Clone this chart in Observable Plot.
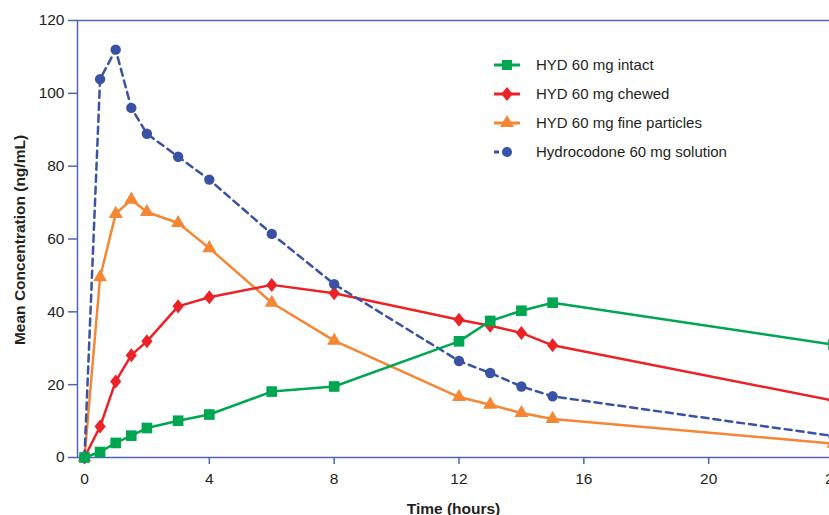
<!DOCTYPE html>
<html>
<head>
<meta charset="utf-8">
<script src="https://cdn.jsdelivr.net/npm/d3@7"></script>
<script src="https://cdn.jsdelivr.net/npm/@observablehq/plot@0.6"></script>
<style>
  html, body { margin: 0; padding: 0; overflow: hidden; background: white; }
  #wrap { position: relative; width: 829px; height: 515px; overflow: hidden; }
  #wrap svg { max-width: none !important; }
  #legend { position: absolute; left: 0; top: 0; pointer-events: none; }
</style>
</head>
<body>
<div id="wrap"></div>
<script>
// ---- data ----
const times = [0, 0.5, 1, 1.5, 2, 3, 4, 6, 8, 12, 13, 14, 15, 24];
const intact   = [0, 1.5, 4.0, 6.0, 8.1, 10.1, 11.8, 18.1, 19.5, 31.9, 37.5, 40.3, 42.5, 31.0];
const chewed   = [0, 8.5, 20.9, 28.1, 31.9, 41.5, 44.0, 47.4, 45.1, 37.8, 36.2, 34.2, 30.8, 15.6];
const fine     = [0, 49.5, 66.9, 70.8, 67.4, 64.4, 57.5, 42.5, 32.1, 16.6, 14.5, 12.2, 10.6, 3.8];
const solution = [0, 103.9, 112.0, 96.0, 88.9, 82.6, 76.3, 61.4, 47.6, 26.5, 23.2, 19.5, 16.8, 5.9];
const seriesNames = ["HYD 60 mg intact", "HYD 60 mg chewed", "HYD 60 mg fine particles", "Hydrocodone 60 mg solution"];
const xTicks = [0, 4, 8, 12, 16, 20, 24];
const yTicks = [0, 20, 40, 60, 80, 100, 120];
const xTitle = "Time (hours)";
const yTitle = "Mean Concentration (ng/mL)";

// ---- styles ----
const axisColor = "#4f63b8";
const textColor = "#231f20";
const green = "#00a651", red = "#ec2227", orange = "#f58634", blue = "#3a52a3";
const font = "'Liberation Sans', Arial, Helvetica, sans-serif";

const diamond = {
  draw(context, size) {
    const h = Math.sqrt(size / 1.6);
    const w = h * 0.8;
    context.moveTo(0, -h);
    context.lineTo(w, 0);
    context.lineTo(0, h);
    context.lineTo(-w, 0);
    context.closePath();
  }
};

const toRows = (vals) => times.map((t, i) => ({t, v: vals[i]}));
const dIntact = toRows(intact), dChewed = toRows(chewed), dFine = toRows(fine), dSol = toRows(solution);

const chart = Plot.plot({
  width: 834,
  height: 515,
  marginLeft: 77,
  marginRight: 1,
  marginTop: 20,
  marginBottom: 58,
  x: {domain: [-0.224, 24]},
  y: {domain: [0, 120]},
  style: {fontFamily: font, fontSize: "15px", color: textColor, background: "white", maxWidth: "none"},
  marks: [
    Plot.axisX({ticks: xTicks, tickSize: 7, stroke: axisColor, strokeWidth: 1.5, tickFormat: () => "", label: null}),
    Plot.axisY({ticks: yTicks, tickSize: 9, stroke: axisColor, strokeWidth: 1.5, tickFormat: () => "", label: null}),
    Plot.text(xTicks, {x: d => d, frameAnchor: "bottom", lineAnchor: "top", dy: 15, fontSize: 15.5, fill: textColor}),
    Plot.text(yTicks, {y: d => d, frameAnchor: "left", textAnchor: "end", lineAnchor: "middle", dx: -13, fontSize: 15.5, fill: textColor}),
    Plot.frame({stroke: axisColor, strokeWidth: 1.5}),
    Plot.text([xTitle], {frameAnchor: "bottom", dx: -2, dy: 56, lineAnchor: "bottom", fontWeight: "bold", fontSize: 15.5, fill: textColor}),
    Plot.text([yTitle], {frameAnchor: "left", dx: -57, dy: 1, rotate: -90, textAnchor: "middle", lineAnchor: "middle", fontWeight: "bold", fontSize: 15.5, fill: textColor}),

    Plot.line(dFine, {x: "t", y: "v", stroke: orange, strokeWidth: 2.5}),
    Plot.dot(dFine, {x: "t", y: "v", symbol: "triangle", r: 5.2, fill: orange, stroke: "none"}),

    Plot.line(dChewed, {x: "t", y: "v", stroke: red, strokeWidth: 2.5}),
    Plot.dot(dChewed, {x: "t", y: "v", symbol: diamond, r: 5.0, fill: red, stroke: "none"}),

    Plot.line(dSol, {x: "t", y: "v", stroke: blue, strokeWidth: 2.5, strokeDasharray: "7,5"}),
    Plot.dot(dSol, {x: "t", y: "v", symbol: "circle", r: 5.2, fill: blue, stroke: "none"}),

    Plot.line(dIntact, {x: "t", y: "v", stroke: green, strokeWidth: 2.5}),
    Plot.dot(dIntact, {x: "t", y: "v", symbol: "square", r: 6.0, fill: green, stroke: "none"})
  ]
});
document.getElementById("wrap").appendChild(chart);

// ---- legend (overlay) ----
const legendItems = [
  {name: seriesNames[0], color: green, symbol: d3.symbolSquare, size: 100, dash: null},
  {name: seriesNames[1], color: red, symbol: diamond, size: 80, dash: null},
  {name: seriesNames[2], color: orange, symbol: d3.symbolTriangle, size: 85, dash: null},
  {name: seriesNames[3], color: blue, symbol: d3.symbolCircle, size: 80, dash: "5,6.5,1.5,20"}
];
const svg = d3.select("#wrap").append("svg")
  .attr("id", "legend").attr("width", 829).attr("height", 515);
const g = svg.selectAll("g").data(legendItems).join("g")
  .attr("transform", (d, i) => `translate(494, ${65 + i * 29})`);
g.append("line").attr("x1", 0).attr("x2", 26).attr("y1", 0).attr("y2", 0)
  .attr("stroke", d => d.color).attr("stroke-width", 3)
  .attr("stroke-dasharray", d => d.dash);
g.append("path").attr("transform", "translate(13,0)")
  .attr("d", d => d3.symbol(d.symbol, d.size)()).attr("fill", d => d.color);
g.append("text").attr("x", 42).attr("y", 0).attr("dy", "0.35em")
  .attr("font-family", font).attr("font-size", 15).attr("fill", textColor)
  .text(d => d.name);
</script>
</body>
</html>
